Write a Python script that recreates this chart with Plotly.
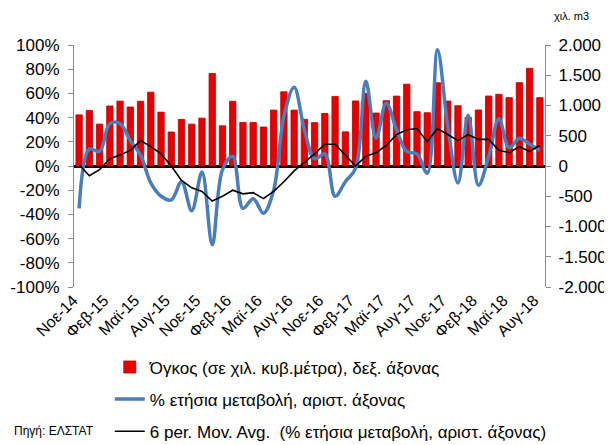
import plotly.graph_objects as go

months = ["Ιαν", "Φεβ", "Μαρ", "Απρ", "Μαϊ", "Ιουν", "Ιουλ", "Αυγ", "Σεπ", "Οκτ", "Νοε", "Δεκ"]
categories = ["Νοε-14", "Δεκ-14"] + [f"{m}-{y}" for y in ("15", "16", "17") for m in months] + [f"{m}-18" for m in months[:8]]

volume = [845, 918, 692, 992, 1072, 975, 1070, 1220, 890, 562,
          770, 692, 791, 1530, 665, 1070, 720, 720, 645, 924,
          1227, 924, 772, 717, 869, 1150, 565, 1075, 1200, 875,
          1080, 1155, 1352, 898, 880, 1376, 1074, 997, 804, 926,
          1157, 1185, 1130, 1378, 1614, 1130]

yoy = [-35, 14, 12, 35, 35, 21, 9, -14, -25, -28,
       -13, -37, -5, -65, -3, 8, -35, -27, -39, -20,
       41, 65, 30, 6, 10, -25, -13, -2, 70, 23,
       52, 30, 12, 10, -6, 96, 33, -14, 42, -16,
       8, 39, 15, 23, 18, 13]

mov_avg = [1, -8, -3, 6, 9, 13, 21, 16, 10, 0,
           -12, -18, -21, -29, -25, -20, -23, -22, -27, -21,
           -13, -4, 3, 10, 18, 18, 9, 0, 8, 11,
           17, 26, 30, 31, 20, 31, 26, 21, 26, 22,
           22, 13, 11, 16, 12, 17]

x_tick_labels = categories[::3]
left_tick_vals = [-100, -80, -60, -40, -20, 0, 20, 40, 60, 80, 100]
left_tick_text = ["-100%", "-80%", "-60%", "-40%", "-20%", "0%", "20%", "40%", "60%", "80%", "100%"]
right_tick_vals = [-2000, -1500, -1000, -500, 0, 500, 1000, 1500, 2000]
right_tick_text = ["-2.000", "-1.500", "-1.000", "-500", "0", "500", "1.000", "1.500", "2.000"]

FONT = "Liberation Sans, Arial, sans-serif"

fig = go.Figure()
fig.add_trace(go.Bar(
    x=categories, y=volume, yaxis="y",
    name="Όγκος (σε χιλ. κυβ.μέτρα), δεξ. άξονας",
    marker=dict(color="#E80000", line=dict(color="#B80000", width=0.8)),
    legendgroup="a",
))
fig.add_trace(go.Scatter(
    x=categories, y=yoy, yaxis="y2", mode="lines",
    name="% ετήσια μεταβολή, αριστ. άξονας",
    line=dict(color="#4A7EBB", width=3.5, shape="spline", smoothing=1.0),
    legendgroup="b",
))
fig.add_trace(go.Scatter(
    x=categories, y=mov_avg, yaxis="y2", mode="lines",
    name="6 per. Mov. Avg.  (% ετήσια μεταβολή, αριστ. άξονας)",
    line=dict(color="#000000", width=1.6),
    legendgroup="c",
))

fig.update_layout(
    width=604, height=437,
    margin=dict(l=66, r=67, t=37, b=158, autoexpand=False),
    paper_bgcolor="white", plot_bgcolor="white",
    font=dict(family=FONT, size=16, color="#000000"),
    bargap=0.38,
    showlegend=True,
    legend=dict(
        x=0.076, y=-0.258, xanchor="left", yanchor="top",
        orientation="v", traceorder="grouped",
        tracegroupgap=7,
        font=dict(family=FONT, size=17, color="#000000"),
        bgcolor="rgba(0,0,0,0)",
    ),
    xaxis=dict(
        type="category",
        tickmode="array", tickvals=x_tick_labels, ticktext=x_tick_labels,
        tickangle=-45, tickfont=dict(size=16),
        ticklabelshift=-6,
        showgrid=False, showline=False, zeroline=False, ticks="",
    ),
    yaxis=dict(
        side="right", range=[-2000, 2000],
        tickmode="array", tickvals=right_tick_vals, ticktext=right_tick_text,
        showgrid=False, zeroline=True, zerolinecolor="#000000", zerolinewidth=3,
        showline=True, linecolor="#8C8C8C", linewidth=1.2,
        ticks="outside", ticklen=5, tickcolor="#8C8C8C",
        ticklabelstandoff=4,
        tickfont=dict(size=17),
    ),
    yaxis2=dict(
        side="left", overlaying="y", range=[-100, 100],
        tickmode="array", tickvals=left_tick_vals, ticktext=left_tick_text,
        showgrid=False, zeroline=False,
        showline=True, linecolor="#8C8C8C", linewidth=1.2,
        ticks="outside", ticklen=5, tickcolor="#8C8C8C",
        ticklabelstandoff=5,
        tickfont=dict(size=17),
    ),
    annotations=[
        dict(text="χιλ. m3", xref="paper", yref="paper", x=1.015, y=1.118,
             xanchor="left", yanchor="middle", showarrow=False,
             font=dict(family=FONT, size=11)),
        dict(text="Πηγή: ΕΛΣΤΑΤ", xref="paper", yref="paper", x=-0.132, y=-0.595,
             xanchor="left", yanchor="middle", showarrow=False,
             font=dict(family=FONT, size=12)),
    ],
)

fig.write_html("out.html")
